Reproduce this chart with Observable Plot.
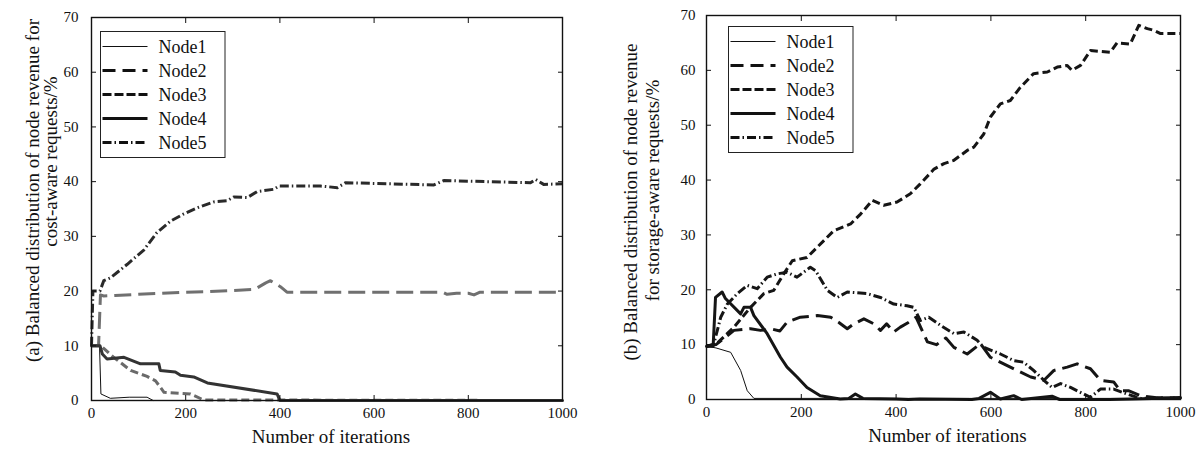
<!DOCTYPE html>
<html><head><meta charset="utf-8">
<script src="https://cdn.jsdelivr.net/npm/d3@7"></script>
<script src="https://cdn.jsdelivr.net/npm/@observablehq/plot@0.6"></script>
<style>
body{margin:0;background:#fff;width:1197px;height:454px;overflow:hidden;position:relative;font-family:"Liberation Serif","Times New Roman",serif;}
.panel{position:absolute;top:0;}
#a{left:0;} #b{left:598px;}
</style></head><body>
<div id="a" class="panel"></div><div id="b" class="panel"></div>
<script>
const nodes = ["Node1","Node2","Node3","Node4","Node5"];
const xTicks = [0,200,400,600,800,1000];
const yTicks = [0,10,20,30,40,50,60,70];
const xLabel = "Number of iterations";
const yLabelA = ["(a) Balanced distribution of node revenue for", "cost-aware requests/%"];
const yLabelB = ["(b) Balanced distribution of node revenue", "for storage-aware requests/%"];

// Panel (a): cost-aware requests
const a1X = [0, 17, 20, 40, 80, 118, 131, 1000];
const a1Y = [10, 10, 1.2, 0.4, 0.6, 0.6, 0, 0];
const a2X = [0, 15, 19, 26, 50, 100, 150, 200, 250, 300, 346, 370, 380, 401, 415, 500, 600, 700, 745, 755, 775, 800, 812, 825, 900, 1000];
const a2Y = [10, 10, 19.3, 19.1, 19.2, 19.4, 19.6, 19.8, 19.9, 20.1, 20.3, 21.5, 21.9, 20.8, 19.8, 19.8, 19.8, 19.8, 19.8, 19.4, 19.6, 19.6, 19.3, 19.8, 19.8, 19.8];
const a3X = [0, 20, 47, 83, 118, 136, 154, 210, 238, 1000];
const a3Y = [10, 10, 7.9, 5.5, 4.4, 3.6, 1.5, 1.2, 0.1, 0];
const a4X = [0, 18, 23, 33, 69, 104, 143, 146, 178, 189, 217, 246, 394, 400, 1000];
const a4Y = [10, 10, 8.5, 7.6, 7.9, 6.7, 6.7, 5.5, 5.2, 4.6, 4.3, 3.2, 1.2, 0, 0];
const a5X = [0, 3, 18, 26, 40, 76, 111, 139, 168, 196, 224, 260, 288, 302, 331, 352, 387, 398, 486, 522, 539, 727, 748, 932, 943, 960, 1000];
const a5Y = [10, 20, 20, 21.9, 22.4, 24.9, 27.5, 30.7, 32.8, 34.1, 35.2, 36.3, 36.5, 37.2, 37.1, 38.2, 38.6, 39.2, 39.2, 38.9, 39.8, 39.4, 40.2, 39.8, 40.4, 39.5, 39.6];

// Panel (b): storage-aware requests
const b1X = [0, 20, 51, 72, 86, 100, 1000];
const b1Y = [9.7, 9.4, 8.6, 5.3, 1.6, 0.2, 0.2];
const b2X = [0, 20, 58, 93, 114, 140, 155, 170, 198, 234, 262, 280, 297, 311, 332, 353, 367, 380, 395, 409, 425, 442, 466, 485, 505, 522, 550, 578, 599, 627, 655, 684, 712, 733, 761, 782, 810, 831, 859, 873, 890, 916, 950, 1000];
const b2Y = [9.7, 10, 12.6, 12.9, 12.6, 12.8, 12.5, 14.1, 15, 15.3, 15, 14, 12.9, 13.8, 14.7, 13.8, 12.6, 13.8, 12.3, 13.2, 14, 15, 10.5, 10, 11.2, 9.5, 8.3, 10.2, 7.7, 6.5, 5.3, 4.1, 3.5, 5.3, 5.9, 6.5, 5.6, 3.5, 3.2, 1.6, 1.6, 0.7, 0.3, 0.3];
const b3X = [0, 22, 58, 93, 121, 142, 163, 181, 212, 234, 269, 304, 325, 350, 374, 402, 430, 451, 480, 501, 522, 550, 564, 585, 599, 620, 641, 662, 690, 719, 740, 761, 771, 789, 810, 852, 866, 894, 912, 930, 944, 958, 1000];
const b3Y = [9.7, 10.2, 13.2, 16.8, 19.3, 19.9, 22.9, 25.3, 25.9, 27.8, 30.8, 32, 33.8, 36.3, 35.4, 36, 37.5, 39.3, 42, 43, 43.6, 45.4, 46, 48.4, 51.5, 53.9, 54.5, 56.9, 59.4, 59.7, 60.6, 60.9, 60, 60.9, 63.6, 63.3, 65, 64.8, 68.2, 67.6, 67.3, 66.7, 66.7];
const b4X = [0, 14, 19, 33, 40, 72, 79, 93, 100, 128, 156, 170, 191, 212, 240, 282, 300, 314, 330, 400, 426, 450, 560, 575, 599, 620, 648, 665, 729, 745, 800, 850, 900, 1000];
const b4Y = [9.7, 9.7, 18.6, 19.6, 18.4, 15.6, 16.8, 16.8, 15.3, 12, 7.7, 5.9, 4.1, 2.2, 0.7, 0.1, 0.2, 1.0, 0.2, 0.1, 0, 0.1, 0, 0.2, 1.3, 0.1, 0.7, 0, 0.6, 0, 0, 0, 0.1, 0.3];
const b5X = [0, 15, 30, 44, 65, 86, 107, 128, 149, 170, 191, 219, 230, 255, 276, 297, 339, 367, 395, 423, 437, 451, 469, 494, 522, 543, 571, 585, 620, 648, 669, 690, 712, 729, 747, 768, 796, 810, 831, 859, 887, 916, 1000];
const b5Y = [9.7, 10, 15, 17.4, 19.3, 20.8, 20.2, 22.3, 22.9, 23.2, 22.3, 24.1, 23.5, 19.9, 18.6, 19.6, 19.3, 18.6, 17.4, 17.1, 16.8, 14.4, 15, 13.5, 12, 12.3, 10.8, 9.5, 8.3, 7.1, 6.8, 5.3, 3.5, 2.2, 2.9, 2.2, 1, 0.4, 1.9, 1.9, 1, 0.2, 0.3];

const seriesA = [[a1X,a1Y],[a2X,a2Y],[a3X,a3Y],[a4X,a4Y],[a5X,a5Y]];
const seriesB = [[b1X,b1Y],[b2X,b2Y],[b3X,b3Y],[b4X,b4Y],[b5X,b5Y]];

// line styles (not data)
const dashes = [null, "17,7", "8,4", null, "9,3,1.5,3"];
const widths = [1, 3, 3, 3, 3];
const colorsA = ["#111", "#707070", "#6a6a6a", "#333", "#2a2a2a"];
const colorsB = ["#111", "#151515", "#151515", "#151515", "#151515"];
const FONT = '"Liberation Serif","Times New Roman",serif';

function toRows(series) {
  return series.map(([xs, ys], i) => xs.map((x, j) => ({node: nodes[i], x, y: ys[j]})));
}

function panel(cfg) {
  const rows = toRows(cfg.series);
  const lines = rows.map((r, i) => Plot.line(r, {
    x: "x", y: "y", stroke: cfg.colors[i], strokeWidth: widths[i],
    strokeDasharray: dashes[i] || undefined, strokeLinejoin: "round", strokeLinecap: dashes[i] ? "butt" : "round"
  }));
  const chart = Plot.plot({
    width: cfg.width, height: 454,
    marginLeft: cfg.ml, marginRight: cfg.mr, marginTop: cfg.mt, marginBottom: cfg.mb,
    x: {domain: [0, 1000]}, y: {domain: [0, 70]},
    style: {fontFamily: FONT, fontSize: "15px", color: "#111", background: "transparent", overflow: "visible"},
    marks: [
      ...lines,
      Plot.axisX(xTicks, {anchor: "bottom", tickSize: -5, tickPadding: 12, label: null, fontSize: 15, tickFormat: d => String(d)}),
      Plot.axisX(xTicks.slice(1, -1), {anchor: "top", tickSize: -5, tickFormat: () => "", label: null}),
      Plot.axisY(yTicks, {anchor: "left", tickSize: -5, tickPadding: cfg.ytp, label: null, fontSize: 15, tickFormat: d => String(d)}),
      Plot.axisY(yTicks.slice(1, -1), {anchor: "right", tickSize: -5, tickFormat: () => "", label: null}),
      Plot.frame({stroke: "#111", strokeWidth: 1.4}),
      Plot.text([xLabel], {text: d => d, frameAnchor: "bottom", dy: 42, dx: 4, fontSize: 19, textAnchor: "middle"}),
      Plot.text([cfg.ylab[0]], {text: d => d, frameAnchor: "left", textAnchor: "middle", rotate: -90, dx: cfg.yl1[0], dy: cfg.yl1[1], fontSize: 19}),
      Plot.text([cfg.ylab[1]], {text: d => d, frameAnchor: "left", textAnchor: "middle", rotate: -90, dx: cfg.yl2[0], dy: cfg.yl2[1], fontSize: 19})
    ]
  });
  // legend box
  const svg = d3.select(chart);
  const L = cfg.legend;
  const g = svg.append("g").attr("text-anchor", "start");
  g.append("rect").attr("x", L.x).attr("y", L.y).attr("width", L.w).attr("height", L.h)
    .attr("fill", "white").attr("stroke", "#222").attr("stroke-width", 1);
  nodes.forEach((n, i) => {
    const yy = L.y + 15 + i * 24;
    g.append("line").attr("x1", L.x + 2).attr("x2", L.x + 47).attr("y1", yy).attr("y2", yy)
      .attr("stroke", "#111").attr("stroke-width", widths[i])
      .attr("stroke-dasharray", i === 1 ? "13,7" : (i === 2 ? "9,3" : (dashes[i] || null)));
    g.append("text").attr("x", L.x + 58).attr("y", yy).attr("dy", "0.35em")
      .attr("text-anchor", "start")
      .attr("font-size", 18).attr("font-family", FONT).attr("fill", "#111").text(n);
  });
  document.getElementById(cfg.id).appendChild(chart);
}

panel({id: "a", series: seriesA, colors: colorsA, width: 598, ml: 91, mr: 36, mt: 17, mb: 54, ytp: 18,
  ylab: yLabelA, yl1: [-59, -18.5], yl2: [-41, -47.5],
  legend: {x: 100.5, y: 31.5, w: 124.5, h: 126}});
panel({id: "b", series: seriesB, colors: colorsB, width: 599, ml: 108, mr: 17, mt: 15, mb: 55, ytp: 16,
  ylab: yLabelB, yl1: [-76, -5.5], yl2: [-54, -17],
  legend: {x: 130.5, y: 26.5, w: 124.5, h: 126}});
</script>
</body></html>
